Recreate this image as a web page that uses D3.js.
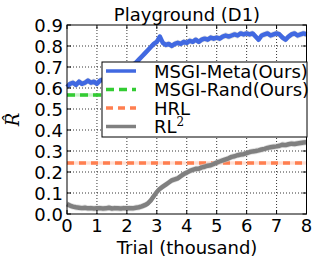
<!DOCTYPE html>
<html>
<head>
<meta charset="utf-8">
<script src="https://cdn.jsdelivr.net/npm/d3@7"></script>
<style>
  body { margin: 0; background: #fff; }
  svg text { font-family: "DejaVu Sans", sans-serif; fill: #000; }
</style>
</head>
<body>
<svg id="vis"></svg>
<script>
const WIDTH = 312;
const HEIGHT = 257;
const margin = { top: 25, right: 5, bottom: 43, left: 67 };

const STEP = 0.1; // thousand trials between samples

// MSGI-Meta(Ours)
const meta = [0.605, 0.62, 0.625, 0.615, 0.63, 0.62, 0.625, 0.635, 0.625, 0.63,
  0.62, 0.635, 0.64, 0.63, 0.645, 0.64, 0.65, 0.645, 0.655, 0.66,
  0.67, 0.69, 0.71, 0.72, 0.735, 0.75, 0.765, 0.78, 0.795, 0.81,
  0.82, 0.845, 0.815, 0.805, 0.81, 0.80, 0.81, 0.815, 0.81, 0.82,
  0.815, 0.825, 0.82, 0.83, 0.82, 0.83, 0.835, 0.83, 0.84, 0.835,
  0.84, 0.835, 0.845, 0.85, 0.845, 0.85, 0.855, 0.85, 0.86, 0.855,
  0.86, 0.855, 0.86, 0.845, 0.83, 0.85, 0.855, 0.86, 0.85, 0.855,
  0.86, 0.855, 0.84, 0.83, 0.845, 0.855, 0.86, 0.85, 0.855, 0.86, 0.855];

// RL^2
const rl2 = [0.047, 0.04, 0.035, 0.032, 0.03, 0.028, 0.03, 0.027, 0.028, 0.026,
  0.027, 0.028, 0.026, 0.027, 0.03, 0.026, 0.028, 0.027, 0.026, 0.028,
  0.027, 0.028, 0.027, 0.03, 0.032, 0.036, 0.042, 0.05, 0.065, 0.085,
  0.105, 0.12, 0.13, 0.14, 0.15, 0.16, 0.165, 0.17, 0.18, 0.19,
  0.197, 0.205, 0.21, 0.215, 0.215, 0.222, 0.225, 0.23, 0.232, 0.238,
  0.245, 0.25, 0.255, 0.26, 0.265, 0.272, 0.275, 0.28, 0.283, 0.285,
  0.29, 0.295, 0.298, 0.3, 0.303, 0.307, 0.31, 0.315, 0.318, 0.32,
  0.322, 0.325, 0.33, 0.328, 0.332, 0.335, 0.333, 0.336, 0.338, 0.34, 0.342];

const randLevel = 0.567; // MSGI-Rand(Ours)
const hrlLevel = 0.243;  // HRL
const spread = 0.015;

const xTicks = [0, 1, 2, 3, 4, 5, 6, 7, 8];
const yTicks = [0.0, 0.1, 0.2, 0.3, 0.4, 0.5, 0.6, 0.7, 0.8, 0.9];
const legendNames = ["MSGI-Meta(Ours)", "MSGI-Rand(Ours)", "HRL", "RL"];

const colors = ["#4169e1", "#33cc33", "#ff7f50", "#808080"];
const dashes = [null, "8,5", "7,5", null];

const SVG = d3.select("#vis").attr("width", WIDTH).attr("height", HEIGHT);

const x_scale = d3.scaleLinear().domain([0, 8]).range([margin.left, WIDTH - margin.right - 0.5]);
const y_scale = d3.scaleLinear().domain([0, 0.9]).range([HEIGHT - margin.bottom, margin.top]);

// grid
const grid = SVG.append("g");
grid.selectAll(".gx").data(xTicks.slice(1, -1)).enter().append("line")
  .attr("x1", d => x_scale(d)).attr("x2", d => x_scale(d))
  .attr("y1", y_scale(0)).attr("y2", y_scale(0.9))
  .attr("stroke", "#000").attr("stroke-width", 0.8).attr("stroke-dasharray", "1,2");
grid.selectAll(".gy").data(yTicks.slice(1, -1)).enter().append("line")
  .attr("y1", d => y_scale(d)).attr("y2", d => y_scale(d))
  .attr("x1", x_scale(0)).attr("x2", x_scale(8))
  .attr("stroke", "#000").attr("stroke-width", 0.8).attr("stroke-dasharray", "1,2");

const plot = SVG.append("g");

const band = d3.area()
  .x((d, i) => x_scale(i * STEP))
  .y0(d => y_scale(d - spread))
  .y1(d => y_scale(d + spread));
const line = d3.line()
  .x((d, i) => x_scale(i * STEP))
  .y(d => y_scale(d));

// flat baselines
[[randLevel, 1], [hrlLevel, 2]].forEach(([v, k]) => {
  plot.append("rect")
    .attr("x", x_scale(0)).attr("width", x_scale(8) - x_scale(0))
    .attr("y", y_scale(v + 0.008)).attr("height", y_scale(v - 0.008) - y_scale(v + 0.008))
    .attr("fill", colors[k]).attr("opacity", 0.25);
  plot.append("line")
    .attr("x1", x_scale(0)).attr("x2", x_scale(8))
    .attr("y1", y_scale(v)).attr("y2", y_scale(v))
    .attr("stroke", colors[k]).attr("stroke-width", 3.5)
    .attr("stroke-dasharray", dashes[k]);
});

[[meta, 0], [rl2, 3]].forEach(([data, k]) => {
  plot.append("path").datum(data).attr("d", band)
    .attr("fill", "#cccccc").attr("opacity", 0.6);
  plot.append("path").datum(data).attr("d", line)
    .attr("fill", "none").attr("stroke", colors[k]).attr("stroke-width", 4.5)
    .attr("stroke-linejoin", "round");
});

// frame + ticks
SVG.append("rect")
  .attr("x", x_scale(0)).attr("y", y_scale(0.9))
  .attr("width", x_scale(8) - x_scale(0)).attr("height", y_scale(0) - y_scale(0.9))
  .attr("fill", "none").attr("stroke", "#000").attr("stroke-width", 1);

const ax = SVG.append("g");
xTicks.forEach(t => {
  ax.append("line").attr("x1", x_scale(t)).attr("x2", x_scale(t))
    .attr("y1", y_scale(0)).attr("y2", y_scale(0) - 4).attr("stroke", "#000");
  ax.append("line").attr("x1", x_scale(t)).attr("x2", x_scale(t))
    .attr("y1", y_scale(0.9)).attr("y2", y_scale(0.9) + 4).attr("stroke", "#000");
  ax.append("text").attr("x", x_scale(t)).attr("y", y_scale(0) + 18)
    .attr("text-anchor", "middle").attr("font-size", 18).text(t);
});
yTicks.forEach(t => {
  ax.append("line").attr("x1", x_scale(0)).attr("x2", x_scale(0) + 4)
    .attr("y1", y_scale(t)).attr("y2", y_scale(t)).attr("stroke", "#000");
  ax.append("line").attr("x1", x_scale(8)).attr("x2", x_scale(8) - 4)
    .attr("y1", y_scale(t)).attr("y2", y_scale(t)).attr("stroke", "#000");
  ax.append("text").attr("x", x_scale(0) - 4).attr("y", y_scale(t) + 7)
    .attr("text-anchor", "end").attr("font-size", 18).text(t.toFixed(1));
});

SVG.append("text").attr("x", 187).attr("y", 21)
  .attr("text-anchor", "middle").attr("font-size", 18).text("Playground (D1)");
SVG.append("text").attr("x", 187).attr("y", 254)
  .attr("text-anchor", "middle").attr("font-size", 18).text("Trial (thousand)");
SVG.append("text")
  .attr("transform", `translate(19, ${(y_scale(0) + y_scale(0.9)) / 2}) rotate(-90)`)
  .attr("text-anchor", "middle")
  .style("font-family", "'DejaVu Serif', serif").style("font-style", "italic")
  .attr("font-size", 18).text("R\u0302");

// legend
const lg = SVG.append("g").attr("transform", "translate(102, 62)");
lg.append("rect").attr("width", 205).attr("height", 75)
  .attr("fill", "#fff").attr("stroke", "#000").attr("stroke-width", 1);
legendNames.forEach((name, i) => {
  const y = 9 + i * 18.5;
  lg.append("line").attr("x1", 4).attr("x2", 34).attr("y1", y).attr("y2", y)
    .attr("stroke", colors[i]).attr("stroke-width", 3.5)
    .attr("stroke-dasharray", dashes[i]);
  const tx = lg.append("text").attr("x", 52).attr("y", y + 6.5).attr("font-size", 18).text(name);
  if (i === 3) tx.append("tspan").attr("dy", -7).attr("font-size", 12)
    .style("font-family", "'DejaVu Serif', serif").text("2");
});
</script>
</body>
</html>
